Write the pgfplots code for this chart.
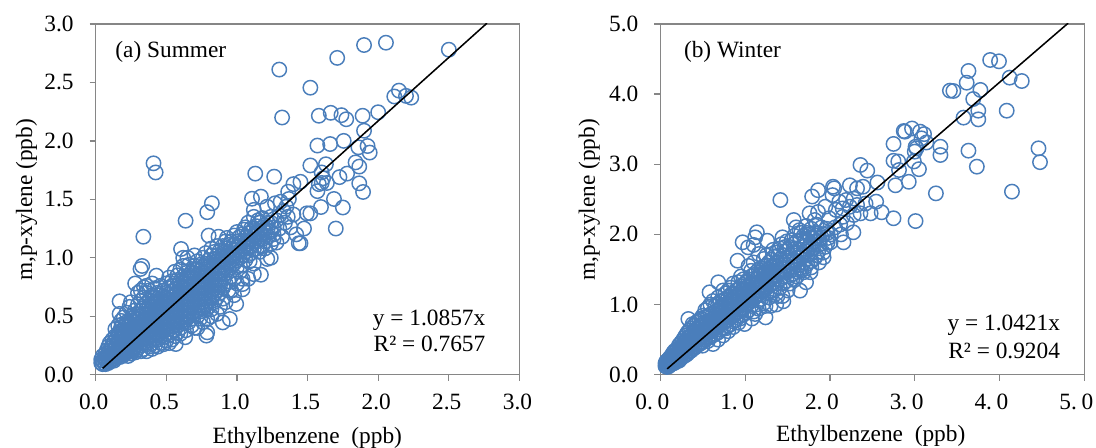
\documentclass[border=0pt]{standalone}
\usepackage{fontspec}
\setmainfont{Liberation Serif}
\usepackage{pgfplots}
\pgfplotsset{compat=1.18}
\definecolor{mk}{HTML}{4A7EBB}
\definecolor{ax}{HTML}{868686}
\newcommand{\fs}{\fontsize{17.5}{20}\selectfont}
\pgfplotsset{pan/.style={
  scale only axis, width=317.9pt, height=263pt, clip mode=individual,
  axis line style={ax,line width=1pt}, tick style={ax,line width=1pt},
  tick align=outside, major tick length=4.5pt, axis x line*=bottom, axis y line*=left,
  every axis x line/.append style={-}, every axis y line/.append style={-},
  axis lines=box, xtick pos=bottom, ytick pos=left,
  /pgf/number format/assume math mode=true,
  /pgf/number format/.cd, fixed, fixed zerofill, precision=1, /pgfplots/.cd,
  tick label style={font=\fs}, label style={font=\fs},
  xticklabel style={yshift=-6.5pt,xshift=-1.5pt}, yticklabel style={xshift=-8.5pt},
}, pts/.style={only marks, mark=o, mark size=5.4pt, mark options={mk,line width=1.1pt}}}
\begin{document}
\begin{tikzpicture}[x=1pt,y=1pt]
\path[use as bounding box] (0,0) rectangle (822,336);
\begin{axis}[pan, at={(71.7pt,55pt)}, anchor=south west, xmin=0,xmax=3,ymin=0,ymax=3,
  xtick={0,0.5,...,3}, ytick={0,0.5,...,3}]
\addplot[pts] coordinates {
(1.30,2.61)(1.52,2.455)(1.32,2.20)(1.71,2.71)(1.90,2.82)(2.055,2.84)(2.50,2.78)(2.147,2.43)(2.114,2.38)(2.197,2.385)(2.234,2.37)(2.0,2.245)(1.89,2.215)(1.58,2.215)(1.664,2.24)(1.74,2.22)(1.774,2.185)(1.90,2.087)(1.756,2.0)(1.66,1.973)(1.57,1.96)(1.925,1.956)(1.86,1.945)(1.94,1.90)(1.84,1.816)(1.866,1.78)(1.63,1.80)(1.52,1.79)(1.60,1.73)(1.726,1.69)(1.78,1.72)(1.61,1.68)(1.60,1.64)(1.58,1.63)(1.637,1.64)(1.57,1.57)(1.866,1.637)(1.893,1.563)(1.687,1.503)(1.75,1.43)(1.595,1.434)(1.52,1.38)(1.495,1.38)(1.45,1.65)(1.40,1.63)(1.363,1.565)(1.264,1.694)(1.13,1.72)(1.107,1.505)(1.17,1.523)(1.214,1.437)(1.27,1.466)(1.31,1.48)(1.35,1.437)(1.368,1.503)(1.12,1.41)(1.12,1.35)(1.15,1.32)(.823,1.466)(.79,1.39)(.637,1.317)(.41,1.808)(.425,1.73)(1.475,1.25)(1.70,1.25)
(.338,1.18)(1.438,1.124)(1.45,1.124)(1.17,.855)(1.24,1.0)(1.215,.99)(1.09,.97)(1.04,.82)(1.04,.775)(1.04,.73)(.995,.605)(.95,.476)(.90,.447)(.79,.476)(.79,.362)(.784,.334)(.605,1.075)(.33,.93)(.318,.904)(.43,.847)(.28,.78)(.343,.747)(.17,.627)(.25,.62)(.634,.32)(.567,.262)(.80,1.19)(.87,1.18)(.93,1.17)(.65,1.0)(.62,1.0)(.70,1.02)(1.0,1.22)(1.05,1.24)(1.10,1.25)(1.14,1.22)(1.19,1.24)(1.22,1.18)(1.26,1.2)(1.32,1.18)(1.28,1.13)(1.30,1.25)(1.34,1.3)(1.22,1.3)(1.18,1.34)(1.24,1.35)(1.3,1.36)(1.16,1.1)(1.12,1.14)(1.18,1.16)(1.08,1.12)(.55,.48)(.58,.42)(.68,.42)(.72,.4)(.74,.48)(.82,.5)(.86,.52)(.88,.58)(.92,.62)(.98,.68)(.94,.72)(.96,.84)(1.0,.92)
(.04,.10)(.04,.13)(.05,.09)(.05,.12)(.05,.16)(.06,.10)(.06,.14)(.07,.09)(.07,.13)(.07,.18)(.08,.11)(.08,.15)(.08,.21)(.09,.10)(.09,.13)(.09,.18)(.09,.24)
(.10,.11)(.10,.15)(.10,.20)(.10,.27)(.11,.12)(.11,.17)(.11,.23)(.12,.13)(.12,.18)(.12,.25)(.12,.30)(.13,.12)(.13,.16)(.13,.21)(.13,.28)(.14,.14)(.14,.19)(.14,.24)(.14,.33)(.14,.39)
(.15,.15)(.15,.20)(.15,.26)(.15,.31)(.16,.16)(.16,.22)(.16,.28)(.16,.35)(.16,.42)(.17,.15)(.17,.19)(.17,.24)(.17,.30)(.17,.37)(.17,.52)(.18,.17)(.18,.22)(.18,.27)(.18,.33)(.18,.40)(.18,.46)(.19,.16)(.19,.20)(.19,.25)(.19,.31)(.19,.36)(.19,.43)
(.20,.17)(.20,.22)(.20,.28)(.20,.33)(.20,.39)(.20,.49)(.21,.18)(.21,.24)(.21,.30)(.21,.36)(.21,.42)(.22,.19)(.22,.23)(.22,.27)(.22,.32)(.22,.38)(.22,.45)(.22,.53)(.23,.16)(.23,.21)(.23,.26)(.23,.31)(.23,.35)(.23,.41)(.24,.20)(.24,.25)(.24,.29)(.24,.34)(.24,.39)(.24,.44)(.24,.58)(.25,.18)(.25,.23)(.25,.28)(.25,.33)(.25,.37)(.25,.43)(.25,.48)
(.26,.20)(.26,.26)(.26,.30)(.26,.35)(.26,.40)(.26,.46)(.26,.51)(.27,.22)(.27,.27)(.27,.32)(.27,.38)(.27,.42)(.27,.49)(.28,.19)(.28,.24)(.28,.29)(.28,.34)(.28,.39)(.28,.45)(.28,.55)(.29,.21)(.29,.26)(.29,.31)(.29,.36)(.29,.41)(.29,.47)(.29,.52)(.30,.23)(.30,.28)(.30,.33)(.30,.38)(.30,.43)(.30,.50)(.30,.60)(.30,.70)
(.32,.20)(.32,.25)(.32,.30)(.32,.35)(.32,.40)(.32,.45)(.32,.50)(.32,.55)(.32,.63)(.32,.72)(.34,.22)(.34,.27)(.34,.32)(.34,.37)(.34,.42)(.34,.47)(.34,.52)(.34,.57)(.34,.66)(.36,.20)(.36,.26)(.36,.31)(.36,.36)(.36,.41)(.36,.46)(.36,.51)(.36,.56)(.36,.61)(.36,.70)(.36,.76)
(.38,.24)(.38,.29)(.38,.34)(.38,.39)(.38,.44)(.38,.49)(.38,.54)(.38,.59)(.38,.64)(.38,.72)(.40,.22)(.40,.27)(.40,.33)(.40,.38)(.40,.43)(.40,.48)(.40,.53)(.40,.58)(.40,.63)(.40,.68)(.40,.78)(.42,.25)(.42,.31)(.42,.36)(.42,.41)(.42,.46)(.42,.51)(.42,.56)(.42,.61)(.42,.66)(.42,.74)
(.44,.24)(.44,.30)(.44,.35)(.44,.40)(.44,.45)(.44,.50)(.44,.55)(.44,.60)(.44,.65)(.44,.70)(.46,.27)(.46,.33)(.46,.38)(.46,.43)(.46,.48)(.46,.53)(.46,.58)(.46,.63)(.46,.68)(.46,.76)(.48,.26)(.48,.32)(.48,.37)(.48,.42)(.48,.47)(.48,.52)(.48,.57)(.48,.62)(.48,.67)(.48,.72)
(.50,.29)(.50,.35)(.50,.40)(.50,.45)(.50,.50)(.50,.55)(.50,.60)(.50,.65)(.50,.70)(.50,.78)(.52,.27)(.52,.34)(.52,.39)(.52,.44)(.52,.49)(.52,.54)(.52,.59)(.52,.64)(.52,.69)(.52,.74)(.52,.83)(.54,.30)(.54,.36)(.54,.41)(.54,.46)(.54,.51)(.54,.56)(.54,.61)(.54,.66)(.54,.71)(.54,.76)(.54,.80)
(.56,.33)(.56,.38)(.56,.43)(.56,.48)(.56,.53)(.56,.58)(.56,.63)(.56,.68)(.56,.73)(.56,.78)(.56,.88)(.58,.36)(.58,.46)(.58,.51)(.58,.56)(.58,.61)(.58,.66)(.58,.71)(.58,.76)(.58,.81)(.58,.85)(.60,.35)(.60,.40)(.60,.45)(.60,.50)(.60,.55)(.60,.60)(.60,.65)(.60,.70)(.60,.75)(.60,.80)(.60,.90)
(.62,.44)(.62,.49)(.62,.54)(.62,.59)(.62,.64)(.62,.69)(.62,.74)(.62,.79)(.62,.84)(.62,.93)(.64,.38)(.64,.47)(.64,.52)(.64,.57)(.64,.62)(.64,.67)(.64,.72)(.64,.77)(.64,.82)(.64,.87)(.66,.45)(.66,.50)(.66,.55)(.66,.60)(.66,.65)(.66,.70)(.66,.75)(.66,.80)(.66,.85)(.66,.94)
(.68,.48)(.68,.53)(.68,.58)(.68,.63)(.68,.68)(.68,.73)(.68,.78)(.68,.83)(.68,.88)(.70,.40)(.70,.52)(.70,.57)(.70,.62)(.70,.67)(.70,.72)(.70,.77)(.70,.82)(.70,.87)(.70,.93)(.72,.50)(.72,.55)(.72,.60)(.72,.65)(.72,.70)(.72,.75)(.72,.80)(.72,.85)(.72,.90)(.72,.97)
(.74,.54)(.74,.59)(.74,.64)(.74,.69)(.74,.74)(.74,.79)(.74,.84)(.74,.89)(.74,.94)(.76,.45)(.76,.57)(.76,.62)(.76,.67)(.76,.72)(.76,.77)(.76,.82)(.76,.87)(.76,.92)(.76,1.0)(.78,.55)(.78,.60)(.78,.65)(.78,.70)(.78,.75)(.78,.80)(.78,.85)(.78,.90)(.78,.95)(.78,1.04)
(.80,.58)(.80,.63)(.80,.68)(.80,.73)(.80,.78)(.80,.83)(.80,.88)(.80,.93)(.80,.98)(.82,.56)(.82,.66)(.82,.71)(.82,.76)(.82,.81)(.82,.86)(.82,.91)(.82,.96)(.82,1.02)(.82,1.08)(.84,.62)(.84,.69)(.84,.74)(.84,.79)(.84,.84)(.84,.89)(.84,.94)(.84,.99)(.84,1.05)
(.86,.66)(.86,.72)(.86,.77)(.86,.82)(.86,.87)(.86,.92)(.86,.97)(.86,1.02)(.86,1.10)(.88,.70)(.88,.76)(.88,.81)(.88,.86)(.88,.91)(.88,.96)(.88,1.01)(.88,1.06)(.90,.65)(.90,.74)(.90,.84)(.90,.89)(.90,.94)(.90,.99)(.90,1.04)(.90,1.10)(.92,.78)(.92,.87)(.92,.92)(.92,.97)(.92,1.02)(.92,1.08)(.92,1.14)
(.94,.80)(.94,.90)(.94,.95)(.94,1.0)(.94,1.05)(.94,1.11)(.96,.72)(.96,.92)(.96,.98)(.96,1.03)(.96,1.08)(.96,1.14)(.98,.82)(.98,.95)(.98,1.01)(.98,1.06)(.98,1.11)(.98,1.19)(1.0,.78)(1.0,.98)(1.0,1.04)(1.0,1.09)(1.0,1.14)(1.02,.88)(1.02,1.0)(1.02,1.06)(1.02,1.12)(1.02,1.18)
(1.04,.94)(1.04,1.02)(1.04,1.08)(1.04,1.14)(1.04,1.2)(1.06,.98)(1.06,1.05)(1.06,1.11)(1.06,1.17)(1.06,1.26)(1.08,1.02)(1.08,1.08)(1.08,1.14)(1.08,1.21)(1.08,1.3)(1.10,1.04)(1.10,1.1)(1.10,1.16)(1.10,1.22)(1.12,.95)(1.12,1.07)(1.12,1.18)(1.12,1.25)(1.14,1.08)(1.14,1.14)(1.14,1.2)(1.14,1.27)(1.16,1.05)(1.16,1.16)(1.16,1.22)(1.16,1.3)(1.18,1.1)(1.18,1.2)(1.18,1.26)(1.2,1.08)(1.2,1.14)(1.2,1.22)(1.2,1.28)(1.22,1.26)(1.24,1.12)(1.24,1.22)(1.24,1.3)(1.26,1.16)(1.26,1.26)
(1.36,1.35)(1.40,1.37)(1.33,1.4)(1.08,.82)(1.12,.86)(1.28,1.32)(1.38,1.26)(1.42,1.2)
};
\addplot[black,line width=1.15pt] coordinates {(0.05,0.054)(2.77,3.007)};
\end{axis}
\begin{axis}[pan, at={(495.3pt,55pt)}, anchor=south west, xmin=0,xmax=5,ymin=0,ymax=5,
  xtick={0,1,...,5}, ytick={0,1,...,5}, xticklabel style={xshift=-4.5pt},
  xticklabels={0.\hspace{0.2em}0,1.\hspace{0.2em}0,2.\hspace{0.2em}0,3.\hspace{0.2em}0,4.\hspace{0.2em}0,5.\hspace{0.2em}0}]
\addplot[pts] coordinates {
(3.89,4.487)(3.994,4.468)(3.634,4.33)(3.613,4.163)(3.415,4.05)(3.456,4.045)(3.775,4.06)(3.69,3.93)(4.12,4.235)(4.263,4.187)(4.085,3.764)(3.75,3.764)(3.576,3.665)(3.75,3.64)(3.634,3.194)(3.303,3.25)(3.303,3.132)(3.733,2.966)(4.46,3.227)(4.478,3.03)(4.147,2.61)(3.25,2.585)(2.93,2.75)(2.773,2.70)(2.75,3.29)(2.75,3.05)(2.806,3.04)(2.815,2.918)(2.87,3.474)(2.885,3.465)(2.968,3.51)(3.063,3.465)(3.11,3.43)(3.08,3.37)(3.137,3.31)(3.01,3.25)(3.02,3.227)(3.0,3.18)(2.99,3.04)(3.05,2.93)(2.36,2.99)(2.44,2.91)(2.56,2.74)(2.39,2.68)(2.32,2.657)(2.235,2.70)(2.036,2.68)(2.05,2.657)(1.86,2.63)(1.79,2.54)(2.03,2.56)(1.415,2.49)(2.545,2.467)(2.61,2.315)(2.48,2.30)(2.75,2.23)(3.01,2.19)(1.573,2.205)(1.76,2.30)(1.86,2.32)(1.945,2.395)(2.11,2.467)(2.19,2.49)(2.28,2.51)(2.32,2.42)(2.42,2.44)(2.235,2.395)(2.15,2.37)(2.07,2.35)(2.36,2.30)(2.28,2.277)(1.82,2.205)(1.99,2.23)(2.15,2.25)
(2.276,2.03)(2.16,1.887)(2.007,1.887)(2.13,2.0)(2.01,2.0)(1.138,2.03)(1.118,1.958)(.97,1.887)(1.035,1.815)(1.26,1.91)(1.44,1.958)(.91,1.625)(.58,1.174)(.33,.794)(.683,1.317)(1.925,1.673)(1.78,1.53)(1.718,1.317)(1.647,1.198)(1.45,1.046)(1.366,1.0)(1.24,.817)(1.118,.865)(.993,.722)(.62,.437)(.497,.413)
(1.6,2.1)(1.66,2.02)(1.72,2.12)(1.78,2.08)(1.84,2.14)(1.9,2.1)(1.96,2.08)(2.06,2.1)(2.12,2.14)(2.2,2.16)(1.98,1.95)(1.9,1.96)(1.84,1.98)(1.94,1.82)(1.86,1.75)(1.8,1.8)(1.74,1.7)(1.78,1.62)(1.66,1.48)(1.58,1.35)(1.54,1.42)(1.5,1.2)(1.44,1.12)(1.38,1.12)(1.3,.98)(1.24,.98)(1.16,.94)(1.08,.8)(.94,.8)(.86,.68)(.8,.62)(.74,.56)(.68,.5)(.56,.48)(.48,.45)
(.06,.12)(.06,.16)(.07,.14)(.07,.19)(.08,.11)(.08,.17)(.09,.13)(.09,.21)(.10,.12)(.10,.17)(.11,.14)(.11,.24)(.12,.16)(.12,.21)(.13,.15)(.13,.27)(.14,.18)(.14,.23)(.15,.16)(.15,.21)(.15,.31)(.16,.19)(.16,.26)(.17,.17)(.17,.23)(.17,.34)(.18,.2)(.18,.28)(.19,.19)(.19,.25)(.19,.33)(.20,.22)(.20,.29)(.20,.37)
(.22,.2)(.22,.25)(.22,.3)(.22,.36)(.22,.42)(.24,.23)(.24,.28)(.24,.33)(.24,.39)(.24,.45)(.26,.25)(.26,.3)(.26,.36)(.26,.42)(.26,.48)(.28,.27)(.28,.33)(.28,.39)(.28,.45)(.28,.52)(.30,.28)(.30,.35)(.30,.41)(.30,.48)(.30,.56)(.32,.3)(.32,.37)(.32,.44)(.32,.51)(.32,.6)
(.34,.33)(.34,.4)(.34,.47)(.34,.54)(.34,.63)(.36,.34)(.36,.42)(.36,.49)(.36,.56)(.36,.66)(.38,.37)(.38,.44)(.38,.51)(.38,.59)(.38,.72)(.40,.38)(.40,.46)(.40,.54)(.40,.62)(.40,.7)(.42,.4)(.42,.48)(.42,.56)(.42,.64)(.42,.74)(.44,.42)(.44,.5)(.44,.58)(.44,.66)(.44,.76)
(.46,.44)(.46,.52)(.46,.6)(.46,.68)(.46,.78)(.48,.46)(.48,.54)(.48,.62)(.48,.7)(.48,.8)(.50,.47)(.50,.55)(.50,.63)(.50,.71)(.50,.84)(.53,.5)(.53,.58)(.53,.66)(.53,.74)(.53,.82)(.53,.92)(.56,.52)(.56,.6)(.56,.68)(.56,.76)(.56,.84)(.56,.95)(.59,.54)(.59,.62)(.59,.7)(.59,.78)(.59,.86)(.59,1.0)
(.62,.56)(.62,.64)(.62,.72)(.62,.8)(.62,.88)(.62,1.05)(.65,.58)(.65,.66)(.65,.74)(.65,.82)(.65,.9)(.65,.98)(.68,.6)(.68,.68)(.68,.76)(.68,.84)(.68,.92)(.68,1.0)(.68,1.1)(.71,.64)(.71,.72)(.71,.8)(.71,.88)(.71,.96)(.71,1.04)(.74,.66)(.74,.74)(.74,.82)(.74,.9)(.74,.98)(.74,1.06)(.74,1.2)
(.77,.66)(.77,.76)(.77,.84)(.77,.92)(.77,1.0)(.77,1.08)(.77,1.16)(.80,.7)(.80,.78)(.80,.86)(.80,.94)(.80,1.02)(.80,1.1)(.80,1.2)(.83,.72)(.83,.82)(.83,.9)(.83,.98)(.83,1.06)(.83,1.14)(.83,1.24)(.86,.76)(.86,.84)(.86,.92)(.86,1.0)(.86,1.08)(.86,1.16)(.86,1.3)
(.89,.78)(.89,.88)(.89,.96)(.89,1.04)(.89,1.12)(.89,1.2)(.92,.74)(.92,.9)(.92,.98)(.92,1.06)(.92,1.14)(.92,1.22)(.92,1.32)(.95,.84)(.95,.94)(.95,1.02)(.95,1.1)(.95,1.18)(.95,1.26)(.95,1.4)(.98,.86)(.98,.96)(.98,1.04)(.98,1.12)(.98,1.2)(.98,1.28)(.98,1.36)
(1.01,.88)(1.01,1.0)(1.01,1.08)(1.01,1.16)(1.01,1.24)(1.01,1.32)(1.04,.92)(1.04,1.02)(1.04,1.1)(1.04,1.18)(1.04,1.26)(1.04,1.36)(1.04,1.55)(1.07,.98)(1.07,1.06)(1.07,1.14)(1.07,1.22)(1.07,1.3)(1.07,1.4)(1.07,1.48)(1.10,.9)(1.10,1.08)(1.10,1.16)(1.10,1.24)(1.10,1.32)(1.10,1.42)(1.10,1.6)(1.10,1.85)
(1.13,1.0)(1.13,1.12)(1.13,1.2)(1.13,1.28)(1.13,1.36)(1.13,1.46)(1.16,1.06)(1.16,1.16)(1.16,1.24)(1.16,1.32)(1.16,1.4)(1.16,1.5)(1.16,1.72)(1.19,1.08)(1.19,1.18)(1.19,1.26)(1.19,1.34)(1.19,1.42)(1.19,1.52)(1.22,1.02)(1.22,1.2)(1.22,1.28)(1.22,1.36)(1.22,1.44)(1.22,1.54)(1.22,1.65)
(1.25,1.16)(1.25,1.24)(1.25,1.32)(1.25,1.4)(1.25,1.48)(1.25,1.56)(1.25,1.7)(1.28,1.1)(1.28,1.26)(1.28,1.34)(1.28,1.42)(1.28,1.5)(1.28,1.6)(1.31,1.2)(1.31,1.3)(1.31,1.38)(1.31,1.46)(1.31,1.54)(1.31,1.64)(1.34,1.22)(1.34,1.32)(1.34,1.4)(1.34,1.48)(1.34,1.56)(1.34,1.68)
(1.37,1.16)(1.37,1.3)(1.37,1.42)(1.37,1.52)(1.37,1.6)(1.37,1.74)(1.41,1.24)(1.41,1.36)(1.41,1.46)(1.41,1.56)(1.41,1.64)(1.41,1.8)(1.45,1.3)(1.45,1.4)(1.45,1.5)(1.45,1.6)(1.45,1.7)(1.49,1.34)(1.49,1.46)(1.49,1.56)(1.49,1.66)(1.49,1.76)(1.49,1.9)(1.53,1.3)(1.53,1.48)(1.53,1.6)(1.53,1.7)(1.53,1.82)
(1.57,1.44)(1.57,1.54)(1.57,1.64)(1.57,1.74)(1.57,1.86)(1.61,1.4)(1.61,1.5)(1.61,1.62)(1.61,1.74)(1.61,1.9)(1.65,1.52)(1.65,1.66)(1.65,1.78)(1.65,1.92)(1.69,1.46)(1.69,1.6)(1.69,1.72)(1.69,1.84)(1.69,1.98)(1.73,1.58)(1.73,1.76)(1.73,1.9)(1.73,2.02)(1.77,1.46)(1.77,1.72)(1.77,1.86)(1.77,1.96)(1.82,1.66)(1.82,1.9)(1.82,2.02)(1.88,1.86)(1.88,1.94)(1.92,1.74)(1.92,2.0)(1.97,1.88)(1.97,2.02)
(1.33,1.78)(1.39,1.7)(1.43,1.86)(1.47,1.82)(1.51,1.52)(1.55,1.92)(1.59,1.8)(1.63,1.56)(1.67,1.7)(1.71,1.54)(1.75,1.82)(1.8,1.94)(1.84,1.7)(1.87,1.6)(1.58,1.98)(1.64,2.06)(1.7,1.9)(1.76,2.0)(1.86,2.02)
};
\addplot[black,line width=1.15pt] coordinates {(0.08,0.083)(4.81,5.012)};
\end{axis}
\node[anchor=west,font=\fs] at (83,297) {(a) Summer};
\node[anchor=west,font=\fs] at (509.5,297) {(b) Winter};
\node[anchor=east,font=\fs] at (367.5,96) {y = 1.0857x};
\node[anchor=east,font=\fs] at (367.5,78) {R² = 0.7657};
\node[anchor=east,font=\fs] at (798.5,92) {y = 1.0421x};
\node[anchor=east,font=\fs] at (798.5,73) {R² = 0.9204};
\node[font=\fs] at (230.5,7.5) {Ethylbenzene\hspace{0.5em}(ppb)};
\node[font=\fs] at (653,9) {Ethylbenzene\hspace{0.5em}(ppb)};
\node[font=\fs,rotate=90] at (20,186) {m,p-xylene (ppb)};
\node[font=\fs,rotate=90] at (442,186) {m,p-xylene (ppb)};
\end{tikzpicture}
\end{document}
